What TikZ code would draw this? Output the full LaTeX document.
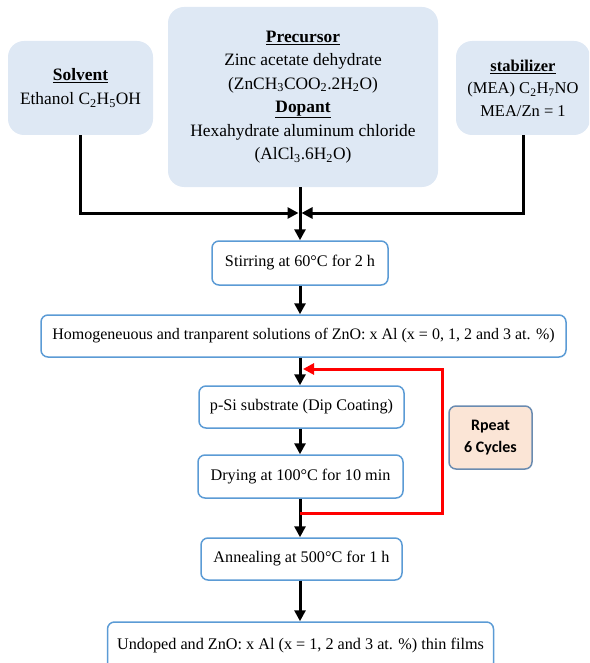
\documentclass[tikz,border=0pt]{standalone}
\usepackage{fontspec}
\setmainfont{Liberation Serif}
\newfontfamily\calib{Carlito}
\usetikzlibrary{arrows.meta,calc}
\definecolor{srcfill}{HTML}{DEE8F4}
\definecolor{procline}{HTML}{5B9BD5}
\definecolor{rptfill}{HTML}{FBE5D6}
\definecolor{rptline}{HTML}{6A8BB0}
\newcommand{\hd}[1]{\underline{\textbf{#1}}}
\begin{document}
\begin{tikzpicture}[x=1pt,y=-1pt,
  srcbox/.style={fill=srcfill, rounded corners=16pt, inner sep=0pt, align=center,
    font=\fontsize{17.4}{23.5}\selectfont},
  procbox/.style={draw=procline, line width=1.5pt, fill=white, rounded corners=7pt,
    inner sep=0pt, align=center, font=\fontsize{16.2}{19}\selectfont},
  rptbox/.style={draw=rptline, line width=1.5pt, fill=rptfill, rounded corners=7pt,
    inner sep=0pt, align=center, font=\calib\bfseries\fontsize{16}{22}\selectfont},
  flow/.style={line width=3pt, -{Triangle[length=11pt,width=11pt]}},
  loopline/.style={line width=3pt, red, -{Triangle[length=11pt,width=11pt]}}]
\useasboundingbox (0,0) rectangle (589,663);
\clip (0,0) rectangle (589,663);

% source boxes
\node[srcbox, minimum width=145pt, minimum height=94pt] (solvent) at (80.5,88)
  {\hd{Solvent}\\Ethanol C\textsubscript{2}H\textsubscript{5}OH};
\node[srcbox, minimum width=270pt, minimum height=180pt] (precursor) at (303,97)
  {\hd{Precursor}\\Zinc acetate dehydrate\\(ZnCH\textsubscript{3}COO\textsubscript{2}.2H\textsubscript{2}O)\\
   \hd{Dopant}\\Hexahydrate aluminum chloride\\(AlCl\textsubscript{3}.6H\textsubscript{2}O)};
\node[srcbox, minimum width=134pt, minimum height=94pt, font=\fontsize{16.5}{22.5}\selectfont] (stabilizer) at (523,88)
  {\hd{stabilizer}\\(MEA) C\textsubscript{2}H\textsubscript{7}NO\\MEA/Zn = 1};

% process boxes
\node[procbox, minimum width=176pt, minimum height=44pt] (stir) at (300,263)
  {Stirring at 60°C for 2 h};
\node[procbox, minimum width=525pt, minimum height=42pt] (homog) at (303.5,336)
  {\fontsize{16}{19}\selectfont Homogeneuous and tranparent solutions of ZnO: x Al (x = 0, 1, 2 and 3 at. \%)};
\node[procbox, minimum width=205pt, minimum height=42pt] (psi) at (301.5,407)
  {p-Si substrate (Dip Coating)};
\node[procbox, minimum width=205pt, minimum height=43pt] (dry) at (300.5,476.5)
  {Drying at 100°C for 10 min};
\node[rptbox, minimum width=83pt, minimum height=63pt] (rpt) at (490.5,437.5)
  {Rpeat\\6 Cycles};
\node[procbox, minimum width=201pt, minimum height=42pt] (anneal) at (301.5,559)
  {Annealing at 500°C for 1 h};
\node[procbox, minimum width=386pt, minimum height=48pt] (final) at (300.5,646)
  {\raisebox{5pt}{Undoped and ZnO: x Al (x = 1, 2 and 3 at. \%) thin films}};

% junction coordinates
\coordinate (jl) at (298.5,213);
\coordinate (jr) at (301.5,213);
\coordinate (rs) at (300,513);
\coordinate (rc1) at (442,513);
\coordinate (rc2) at (442,369);
\coordinate (rt) at (303,369);

% connectors
\draw[flow] (solvent.south) |- (jl);
\draw[flow] (stabilizer.south) |- (jr);
\draw[flow] (precursor.south -| stir.north) -- (stir.north);
\draw[flow] (stir.south) -- (stir.south |- homog.north);
\draw[flow] (stir.south |- homog.south) -- (stir.south |- psi.north);
\draw[flow] (stir.south |- psi.south) -- (stir.south |- dry.north);
\draw[flow] (stir.south |- dry.south) -- (stir.south |- anneal.north);
\draw[flow] (stir.south |- anneal.south) -- (stir.south |- final.north);
\draw[loopline, line join=miter] (rs) -- (rc1) -- (rc2) -- (rt);
\end{tikzpicture}
\end{document}
